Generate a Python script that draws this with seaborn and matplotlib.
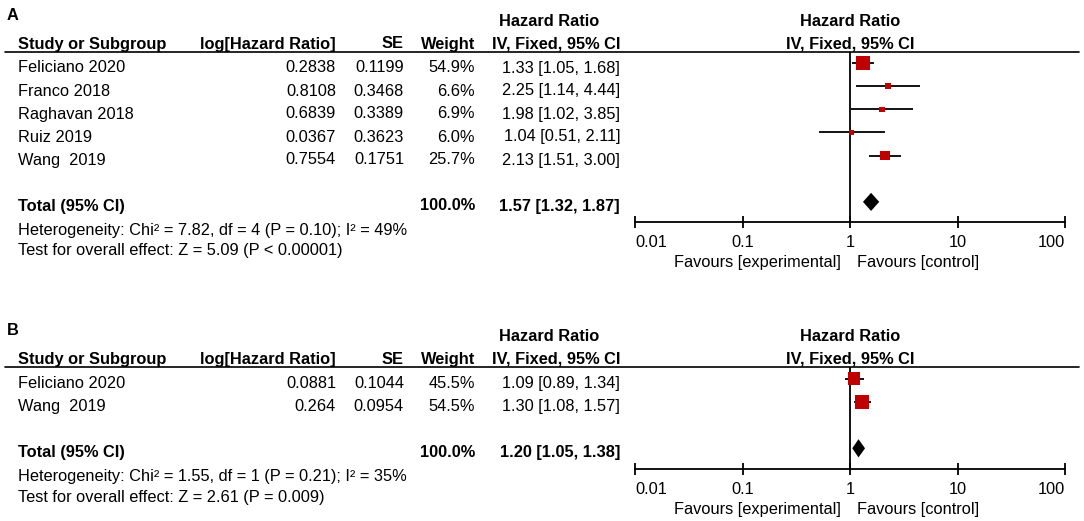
import numpy as np
import pandas as pd
import seaborn as sns
import matplotlib.pyplot as plt

sns.set_theme(style='white')
plt.rcParams['font.family'] = ['Liberation Sans', 'DejaVu Sans']
FS = 11.8
RED = '#C00000'

# panel A
a_study = ['Feliciano 2020', 'Franco 2018', 'Raghavan 2018', 'Ruiz 2019', 'Wang  2019']
a_loghr = [0.2838, 0.8108, 0.6839, 0.0367, 0.7554]
a_se = [0.1199, 0.3468, 0.3389, 0.3623, 0.1751]
a_weight = [54.9, 6.6, 6.9, 6.0, 25.7]
a_hr = [1.33, 2.25, 1.98, 1.04, 2.13]
a_lo = [1.05, 1.14, 1.02, 0.51, 1.51]
a_hi = [1.68, 4.44, 3.85, 2.11, 3.00]
a_total = [1.57, 1.32, 1.87]
a_total_w = 100.0
a_het = 'Heterogeneity: Chi² = 7.82, df = 4 (P = 0.10); I² = 49%'
a_test = 'Test for overall effect: Z = 5.09 (P < 0.00001)'

# panel B
b_study = ['Feliciano 2020', 'Wang  2019']
b_loghr = [0.0881, 0.264]
b_se = [0.1044, 0.0954]
b_weight = [45.5, 54.5]
b_hr = [1.09, 1.30]
b_lo = [0.89, 1.08]
b_hi = [1.34, 1.57]
b_total = [1.20, 1.05, 1.38]
b_total_w = 100.0
b_het = 'Heterogeneity: Chi² = 1.55, df = 1 (P = 0.21); I² = 35%'
b_test = 'Test for overall effect: Z = 2.61 (P = 0.009)'

ticks = [0.01, 0.1, 1, 10, 100]
tick_labels = ['0.01', '0.1', '1', '10', '100']

W, H = 1084, 521
fig = plt.figure(figsize=(W / 100, H / 100), dpi=100)
over = fig.add_axes([0, 0, 1, 1])
over.set_xlim(0, W)
over.set_ylim(H, 0)
over.axis('off')

ROW = 23
X0, X1 = 635, 1065


def panel(label, base, study, loghr, se, weight, hr, lo, hi, total, total_w, het, test):
    n = len(study)
    t = dict(fontsize=FS, va='center', color='black')
    over.text(7, base + 15, label, fontweight='bold', **t)
    over.text(549, base + 21, 'Hazard Ratio', ha='center', fontweight='bold', **t)
    over.text(850, base + 21, 'Hazard Ratio', ha='center', fontweight='bold', **t)
    over.text(18, base + 44, 'Study or Subgroup', fontweight='bold', **t)
    over.text(336, base + 44, 'log[Hazard Ratio]', ha='right', fontweight='bold', **t)
    over.text(404, base + 44, 'SE', ha='right', fontweight='bold', **t)
    over.text(475, base + 44, 'Weight', ha='right', fontweight='bold', **t)
    over.text(620, base + 44, 'IV, Fixed, 95% CI', ha='right', fontweight='bold', **t)
    over.text(850, base + 44, 'IV, Fixed, 95% CI', ha='center', fontweight='bold', **t)
    over.plot([5, 1079], [base + 51.5, base + 51.5], color='black', lw=1.2)

    for i in range(n):
        y = base + 68 + ROW * i
        over.text(18, y, study[i], **t)
        over.text(336, y, str(loghr[i]), ha='right', **t)
        over.text(404, y, str(se[i]), ha='right', **t)
        over.text(475, y, f'{weight[i]:.1f}%', ha='right', **t)
        over.text(620, y, f'{hr[i]:.2f} [{lo[i]:.2f}, {hi[i]:.2f}]', ha='right', **t)
    yt = base + 68 + ROW * (n + 1)
    over.text(18, yt, 'Total (95% CI)', fontweight='bold', **t)
    over.text(475, yt, f'{total_w:.1f}%', ha='right', fontweight='bold', **t)
    over.text(620, yt, f'{total[0]:.2f} [{total[1]:.2f}, {total[2]:.2f}]', ha='right',
              fontweight='bold', **t)
    over.text(18, yt + 24, het, **t)
    over.text(18, yt + 45, test, **t)

    # forest part
    top = base + 51.5
    bot = base + 64 + ROW * (n + 1) + 20
    ax = fig.add_axes([X0 / W, 1 - bot / H, (X1 - X0) / W, (bot - top) / H])
    ax.patch.set_alpha(0)
    rows = np.arange(n)
    df = pd.DataFrame({'hr': hr, 'row': rows, 'weight': weight})
    ax.hlines(rows, lo, hi, color='black', lw=1.3, zorder=2)
    sns.scatterplot(data=df, x='hr', y='row', size='weight', sizes=(4, 100),
                    size_norm=(0, 55), marker='s', color=RED, linewidth=0,
                    legend=False, ax=ax, zorder=3)
    tr = n + 1
    h = 9 / ROW
    ax.fill([total[1], total[0], total[2], total[0]], [tr, tr - h, tr, tr + h],
            color='black', lw=0, zorder=3)
    ax.axvline(1, color='black', lw=1.3, zorder=1)
    ax.set_xscale('log')
    ax.set_xlim(0.01, 100)
    ax.set_ylim(tr + 20 / ROW, -11.5 / ROW)
    ax.set_xticks(ticks)
    ax.set_xticklabels(tick_labels)
    ax.minorticks_off()
    ax.set_yticks([])
    ax.set_xlabel('')
    ax.set_ylabel('')
    for s in ['left', 'right', 'top']:
        ax.spines[s].set_visible(False)
    ax.spines['bottom'].set_color('black')
    ax.spines['bottom'].set_linewidth(1.3)
    ax.tick_params(axis='x', direction='inout', length=9, width=1.3, pad=5,
                   labelsize=FS, colors='black', bottom=True)
    labs = ax.get_xticklabels()
    labs[0].set_horizontalalignment('left')
    labs[-1].set_horizontalalignment('right')
    over.text(841, bot + 41, 'Favours [experimental]', ha='right', **t)
    over.text(857, bot + 41, 'Favours [control]', ha='left', **t)


panel('A', 0, a_study, a_loghr, a_se, a_weight, a_hr, a_lo, a_hi, a_total, a_total_w,
      a_het, a_test)
panel('B', 315.5, b_study, b_loghr, b_se, b_weight, b_hr, b_lo, b_hi, b_total, b_total_w,
      b_het, b_test)

fig.savefig('out.png', dpi=100, facecolor='white')
